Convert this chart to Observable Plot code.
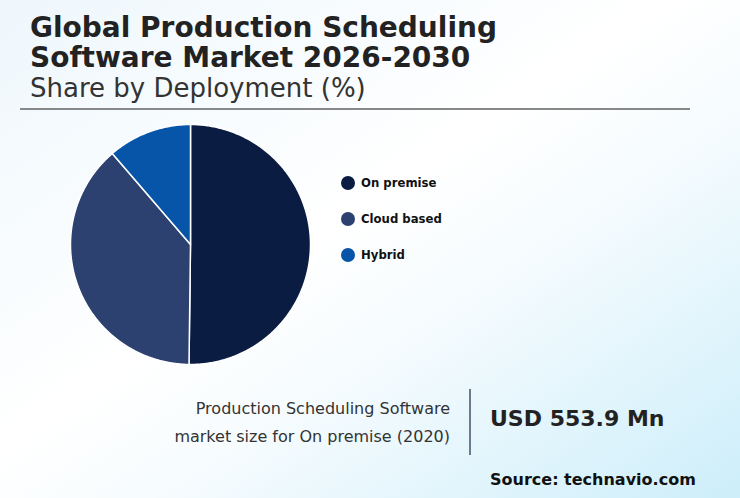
<!DOCTYPE html>
<html>
<head>
<meta charset="utf-8">
<script src="https://cdn.jsdelivr.net/npm/d3@7"></script>
<script src="https://cdn.jsdelivr.net/npm/@observablehq/plot@0.6"></script>
<style>
  html, body { margin: 0; padding: 0; }
  body { width: 740px; height: 498px; overflow: hidden; font-family: "DejaVu Sans", sans-serif; }
  #wrap { position: relative; width: 740px; height: 498px;
    background: linear-gradient(to bottom right, #eef7fc 0%, #ffffff 45%, #f7fcfe 60%, #cdeefa 100%); }
  .abs { position: absolute; white-space: nowrap; }
  #title { left: 30px; top: 13px; font-size: 28px; font-weight: bold; color: #222; line-height: 30px; }
  #subtitle { left: 30px; top: 73px; font-size: 26px; color: #333; line-height: 30px; }
  #rule { left: 20px; top: 108px; width: 670px; height: 2px; background: #888; }
  #chart { left: 70px; top: 124px; }
  .leg { position: absolute; left: 341px; font-size: 11.7px; font-weight: bold; color: #111; display: flex; align-items: center; }
  .leg span.sw { width: 14px; height: 14px; border-radius: 50%; display: inline-block; margin-right: 6px; }
  #note { right: 290px; top: 395px; font-size: 16px; color: #333; text-align: right; line-height: 28px; }
  #vline { left: 469px; top: 389px; width: 2px; height: 66px; background: #6b7b8c; }
  #usd { left: 490px; top: 406px; font-size: 22px; font-weight: bold; color: #222; }
  #src { left: 490px; top: 470px; font-size: 16px; font-weight: bold; color: #111; }
</style>
</head>
<body>
<div id="wrap">
  <div id="title" class="abs">Global Production Scheduling<br>Software Market 2026-2030</div>
  <div id="subtitle" class="abs">Share by Deployment (%)</div>
  <div id="rule" class="abs"></div>
  <div id="chart" class="abs"></div>
  <div id="legend"></div>
  <div id="note" class="abs">Production Scheduling Software<br>market size for On premise (2020)</div>
  <div id="vline" class="abs"></div>
  <div id="usd" class="abs">USD 553.9 Mn</div>
  <div id="src" class="abs">Source: technavio.com</div>
</div>
<script>
const categories = ["On premise", "Cloud based", "Hybrid"];
const shares = [50.2, 38.5, 11.3];
const colors = ["#0a1c42", "#2c4170", "#0655a8"];

// build slice outlines from the shares (angles clockwise from top)
const arcs = d3.pie().sort(null).value(d => d.value)(categories.map((c, i) => ({label: c, value: shares[i]})));
const pts = [];
for (const a of arcs) {
  const label = a.data.label;
  pts.push({label, x: 0, y: 0});
  const n = Math.max(2, Math.ceil((a.endAngle - a.startAngle) / 0.01));
  for (let k = 0; k <= n; k++) {
    const t = a.startAngle + (a.endAngle - a.startAngle) * k / n;
    pts.push({label, x: Math.sin(t), y: Math.cos(t)});
  }
}

const plot = Plot.plot({
  width: 240, height: 240,
  margin: 0,
  x: {domain: [-1, 1], axis: null},
  y: {domain: [-1, 1], axis: null},
  color: {domain: categories, range: colors},
  style: {background: "transparent", overflow: "visible"},
  marks: [
    Plot.line(pts, {x: "x", y: "y", z: "label", fill: "label", stroke: "white", strokeWidth: 1.5, curve: "linear-closed", clip: false})
  ]
});
document.getElementById("chart").appendChild(plot);

const legend = document.getElementById("legend");
const legendTops = [176, 212, 248];
categories.forEach((c, i) => {
  const row = document.createElement("div");
  row.className = "leg";
  row.style.top = legendTops[i] + "px";
  row.innerHTML = `<span class="sw" style="background:${colors[i]}"></span>${c}`;
  legend.appendChild(row);
});
</script>
</body>
</html>
